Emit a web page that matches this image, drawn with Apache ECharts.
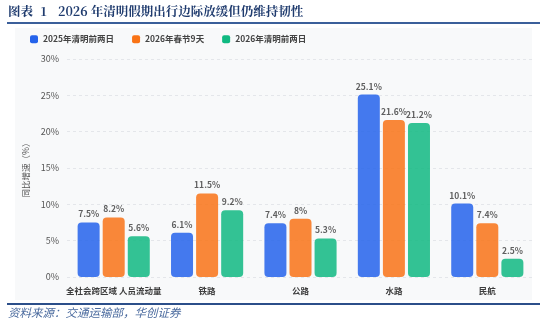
<!DOCTYPE html>
<html><head><meta charset="utf-8">
<script src="https://cdn.jsdelivr.net/npm/echarts@6/dist/echarts.min.js"></script>
<style>html,body{margin:0;padding:0;background:#fff;}#c{width:550px;height:332px;}</style>
</head><body><div id="c"></div>
<script>
var categories = ['全社会跨区域 人员流动量', '铁路', '公路', '水路', '民航'];
var seriesNames = ['2025年清明前两日', '2026年春节9天', '2026年清明前两日'];
var s2025Qingming = [7.5, 6.1, 7.4, 25.1, 10.1];
var s2026Spring = [8.2, 11.5, 8, 21.6, 7.4];
var s2026Qingming = [5.6, 9.2, 5.3, 21.2, 2.5];
var yTicks = [0, 5, 10, 15, 20, 25, 30];

var colors = ['#2563eb', '#f97316', '#10b981'];
var font = '"Noto Sans CJK SC", "Noto Sans", sans-serif';
var titleFont = 'bold 12.5px "Noto Serif CJK SC", "Noto Sans CJK SC", serif';
function mk(name, data, color) {
  return {
    name: name, type: 'bar', data: data, barWidth: 22, barGap: '14%',
    itemStyle: { color: color, opacity: 0.85, borderRadius: 4 },
    label: { show: true, position: 'top', distance: 4, formatter: '{c}%', fontSize: 8.5, fontWeight: 'bold', color: '#444', fontFamily: font }
  };
}
var chart = echarts.init(document.getElementById('c'), null, { renderer: 'canvas' });
chart.setOption({
  animation: false,
  textStyle: { fontFamily: font },
  graphic: [
    { type: 'rect', z: -10, shape: { x: 15, y: 28, width: 517, height: 272 }, style: { fill: '#f8f9fa' } },
    { type: 'line', shape: { x1: 7, y1: 23, x2: 540, y2: 23 }, style: { stroke: '#3b5f9a', lineWidth: 2 } },
    { type: 'line', shape: { x1: 7, y1: 304, x2: 540, y2: 304 }, style: { stroke: '#2c4f8a', lineWidth: 2 } },
    { type: 'text', left: 8, top: 5, style: { text: '图表', font: titleFont, fill: '#1f3b6e' } },
    { type: 'text', left: 40, top: 5, style: { text: '1', font: titleFont, fill: '#1f3b6e' } },
    { type: 'text', left: 58, top: 5, style: { text: '2026 年清明假期出行边际放缓但仍维持韧性', font: titleFont, fill: '#1f3b6e' } },
    { type: 'text', left: 8, top: 307, style: { text: '资料来源：交通运输部，华创证券', font: 'italic 11.5px "Noto Sans CJK SC", sans-serif', fill: '#4a6a9e' } }
  ],
  legend: {
    left: 25, top: 30, itemWidth: 8, itemHeight: 8, itemGap: 18, icon: 'roundRect',
    itemStyle: { opacity: 1 },
    textStyle: { fontSize: 8.5, color: '#444', fontWeight: 'bold', fontFamily: font, padding: [0, 0, 0, 0] },
    data: seriesNames
  },
  grid: { left: 67, right: 16, top: 59, bottom: 55, containLabel: false },
  xAxis: {
    type: 'category', data: categories,
    axisLine: { show: false }, axisTick: { show: false },
    axisLabel: { fontSize: 8.5, fontWeight: 'bold', color: '#3d3d3d', margin: 10, interval: 0 }
  },
  yAxis: {
    type: 'value', min: 0, max: 30, interval: 5,
    name: '同比增速（%）', nameLocation: 'middle', nameGap: 27, nameRotate: 90,
    nameTextStyle: { fontSize: 8.5, color: '#555' },
    axisLabel: { formatter: function (v) { return yTicks.indexOf(v) >= 0 ? v + '%' : ''; }, fontSize: 9, color: '#555', margin: 8 },
    axisLine: { show: false }, axisTick: { show: false },
    splitLine: { lineStyle: { type: [3, 3], color: '#e4e6ea' } }
  },
  series: [
    mk(seriesNames[0], s2025Qingming, colors[0]),
    mk(seriesNames[1], s2026Spring, colors[1]),
    mk(seriesNames[2], s2026Qingming, colors[2])
  ]
});
</script></body></html>
